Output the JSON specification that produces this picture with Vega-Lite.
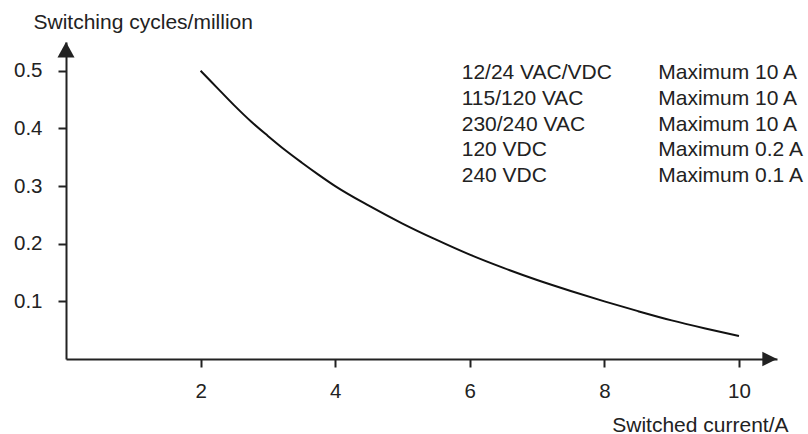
{
  "$schema": "https://vega.github.io/schema/vega-lite/v6.json",
  "width": 711,
  "height": 317,
  "autosize": {"type": "none"},
  "padding": {"left": 66, "top": 42, "right": 31, "bottom": 75},
  "background": "white",
  "config": {"view": {"stroke": null}, "font": "Liberation Sans"},
  "datasets": {
    "curve": [
      {"current": 2.0, "cycles": 0.500},
      {"current": 2.25, "cycles": 0.470},
      {"current": 2.5, "cycles": 0.440},
      {"current": 2.75, "cycles": 0.412},
      {"current": 3.0, "cycles": 0.387},
      {"current": 3.25, "cycles": 0.363},
      {"current": 3.5, "cycles": 0.341},
      {"current": 3.75, "cycles": 0.320},
      {"current": 4.0, "cycles": 0.300},
      {"current": 4.5, "cycles": 0.266},
      {"current": 5.0, "cycles": 0.235},
      {"current": 5.5, "cycles": 0.207},
      {"current": 6.0, "cycles": 0.181},
      {"current": 6.5, "cycles": 0.158},
      {"current": 7.0, "cycles": 0.137},
      {"current": 7.5, "cycles": 0.118},
      {"current": 8.0, "cycles": 0.100},
      {"current": 8.5, "cycles": 0.083},
      {"current": 9.0, "cycles": 0.067},
      {"current": 9.5, "cycles": 0.053},
      {"current": 10.0, "cycles": 0.040}
    ],
    "ratings": [
      {"voltage": "12/24 VAC/VDC", "rating": "Maximum 10 A", "order": 1},
      {"voltage": "115/120 VAC", "rating": "Maximum 10 A", "order": 2},
      {"voltage": "230/240 VAC", "rating": "Maximum 10 A", "order": 3},
      {"voltage": "120 VDC", "rating": "Maximum 0.2 A", "order": 4},
      {"voltage": "240 VDC", "rating": "Maximum 0.1 A", "order": 5}
    ]
  },
  "layer": [
    {
      "layer": [
        {
          "data": {"name": "curve"},
          "mark": {"type": "line", "color": "#111111", "strokeWidth": 2, "interpolate": "monotone"},
          "encoding": {
            "x": {
              "field": "current", "type": "quantitative",
              "scale": {"domain": [0, 10.565], "nice": false, "zero": false},
              "axis": {
                "values": [2, 4, 6, 8, 10], "format": "d",
                "title": "Switched current/A",
                "titleX": 722, "titleY": 72, "titleAlign": "right", "titleBaseline": "alphabetic",
                "titleFontWeight": "normal", "titleFontSize": 21, "titleColor": "#222222",
                "labelFontSize": 20.5, "labelColor": "#222222", "labelBaseline": "alphabetic",
                "labelPadding": 30, "labelFlush": false, "labelOverlap": false,
                "tickSize": 8, "tickWidth": 2, "tickColor": "#222222",
                "domainColor": "#222222", "domainWidth": 2, "grid": false
              }
            },
            "y": {
              "field": "cycles", "type": "quantitative",
              "scale": {"domain": [0, 0.55], "nice": false, "zero": false},
              "axis": {
                "values": [0.1, 0.2, 0.3, 0.4, 0.5], "format": ".1f",
                "title": "Switching cycles/million",
                "titleAngle": 0, "titleX": -33, "titleY": -13.7, "titleAlign": "left", "titleBaseline": "alphabetic",
                "titleFontWeight": "normal", "titleFontSize": 21, "titleColor": "#222222",
                "labelFontSize": 20.5, "labelColor": "#222222", "labelBaseline": "middle",
                "labelPadding": 16, "labelOverlap": false, "labelFlush": false,
                "tickSize": 8, "tickWidth": 2, "tickColor": "#222222",
                "domainColor": "#222222", "domainWidth": 2, "grid": false
              }
            }
          }
        },
        {
          "data": {"values": [{}]},
          "mark": {"type": "point", "shape": "M0,0L-1,-0.5L-1,0.5Z", "filled": true, "size": 860, "color": "#222222", "opacity": 1, "strokeWidth": 0},
          "encoding": {"x": {"datum": 10.565}, "y": {"datum": 0}}
        },
        {
          "data": {"values": [{}]},
          "mark": {"type": "point", "shape": "M0,0L-0.55,1L0.55,1Z", "filled": true, "size": 960, "color": "#222222", "opacity": 1, "strokeWidth": 0},
          "encoding": {"x": {"datum": 0}, "y": {"datum": 0.55}}
        }
      ]
    },
    {
      "data": {"name": "ratings"},
      "layer": [
        {
          "mark": {"type": "text", "align": "left", "baseline": "alphabetic", "fontSize": 21, "color": "#222222"},
          "encoding": {
            "x": {"datum": 5.88},
            "y": {"field": "order", "type": "quantitative", "scale": {"domain": [-0.453, 11.894], "reverse": true, "nice": false, "zero": false}, "axis": null},
            "text": {"field": "voltage"}
          }
        },
        {
          "mark": {"type": "text", "align": "left", "baseline": "alphabetic", "fontSize": 21, "color": "#222222"},
          "encoding": {
            "x": {"datum": 8.8},
            "y": {"field": "order", "type": "quantitative", "scale": {"domain": [-0.453, 11.894], "reverse": true, "nice": false, "zero": false}, "axis": null},
            "text": {"field": "rating"}
          }
        }
      ]
    }
  ],
  "resolve": {"scale": {"y": "independent"}}
}
